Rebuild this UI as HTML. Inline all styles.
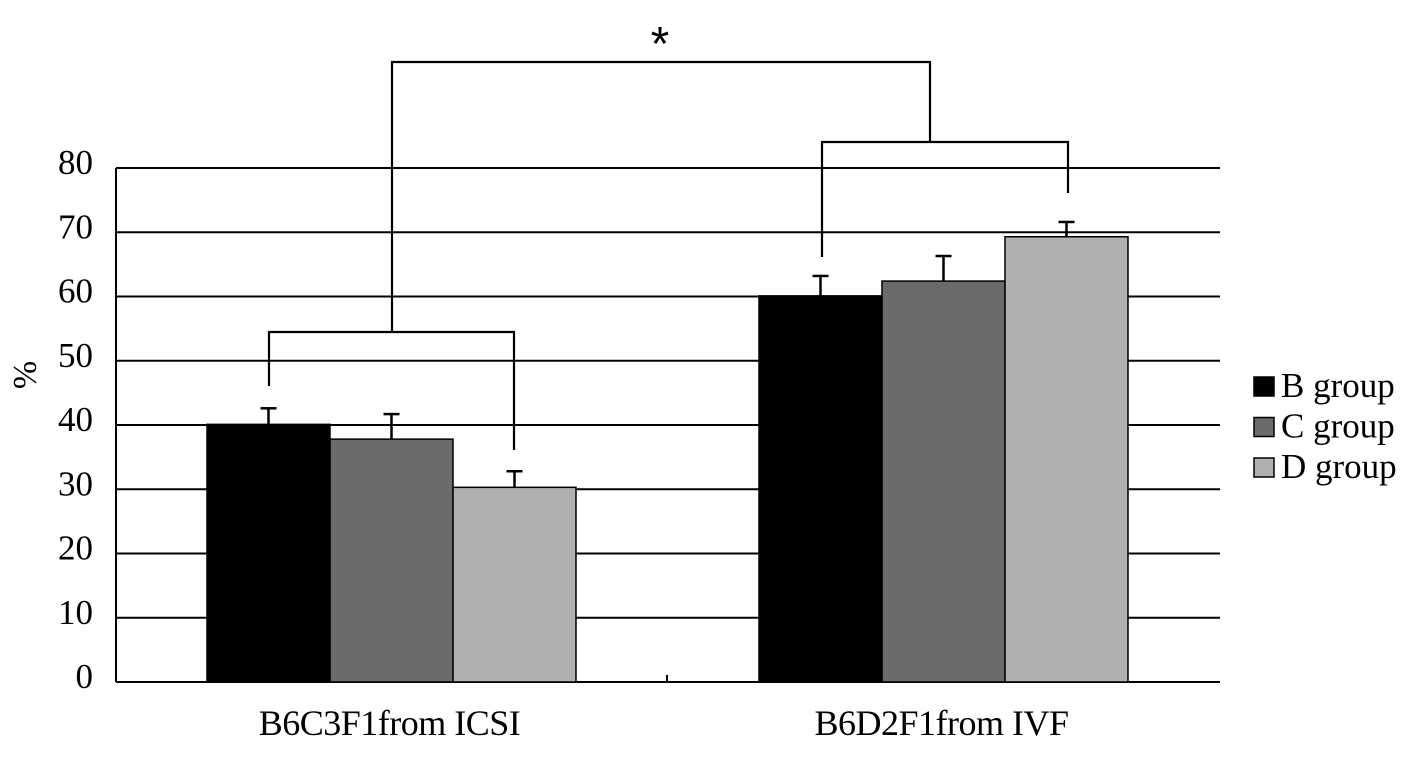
<!DOCTYPE html>
<html><head><meta charset="utf-8"><style>
body{margin:0;background:#fff}
svg{display:block;font-family:"Liberation Serif",serif}
</style></head><body>
<svg id="chart" width="1417" height="760" viewBox="0 0 1417 760"></svg>
<script>
const categories=["B6C3F1from ICSI","B6D2F1from IVF"];
const seriesNames=["B group","C group","D group"];
const seriesB=[40.1,60.1];
const seriesC=[37.8,62.4];
const seriesD=[30.3,69.3];
const errB=[2.5,3.1];
const errC=[3.9,3.9];
const errD=[2.5,2.3];
const yTicks=[0,10,20,30,40,50,60,70,80];
const colors=["#000000","#6b6b6b","#b0b0b0"];
const svg=document.getElementById('chart');
const NS="http://www.w3.org/2000/svg";
function y(v){return 682-v*(682-168)/80;}
const groupX=[207,759], barW=123;
function mk(tag,attrs,name,parent){const e=document.createElementNS(NS,tag);for(const k in attrs)e.setAttribute(k,attrs[k]);


(parent||svg).appendChild(e);return e;}
yTicks.forEach(t=>{
 if(t>0) mk('line',{x1:116,x2:1220,y1:y(t),y2:y(t),stroke:'#000','stroke-width':2},'gridline-'+t);
 const tx=mk('text',{x:93,y:y(t)+6,'text-anchor':'end','font-size':35},'y-tick-'+t);tx.textContent=t;
});
mk('line',{x1:116,x2:116,y1:168,y2:682,stroke:'#000','stroke-width':2},'y-axis');
mk('line',{x1:116,x2:1220,y1:682,y2:682,stroke:'#000','stroke-width':2},'x-axis');
mk('line',{x1:667,x2:667,y1:675,y2:682,stroke:'#000','stroke-width':2},'x-tick-mid');
const series=[seriesB,seriesC,seriesD], errs=[errB,errC,errD];
categories.forEach((c,i)=>{
 series.forEach((s,j)=>{
  const x=groupX[i]+j*barW, v=s[i];
  mk('rect',{x:x,y:y(v),width:barW,height:682-y(v),fill:colors[j],stroke:'#000','stroke-width':1.5},'bar-'+seriesNames[j].split(' ')[0].toLowerCase()+'-'+(i+1));
  const cx=x+barW/2, top=y(v+errs[j][i]);
  mk('line',{x1:cx,x2:cx,y1:y(v),y2:top,stroke:'#000','stroke-width':2.5},'error-bar');
  mk('line',{x1:cx-8,x2:cx+8,y1:top,y2:top,stroke:'#000','stroke-width':2.5},'error-cap');
 });
 const t=mk('text',{x:groupX[i]+1.5*barW-2,y:735,'text-anchor':'middle','font-size':36,'letter-spacing':-0.5},'x-label-'+(i+1));t.textContent=c;
});
const yl=mk('text',{x:0,y:0,'text-anchor':'middle','font-size':34,transform:'translate(36,375) rotate(-90)'},'y-axis-title');yl.textContent='%';
const br='M269,386 L269,332 L514,332 L514,450 M392,332 L392,62 L930,62 L930,142 M822,257 L822,142 L1068,142 L1068,193';
mk('path',{d:br,fill:'none',stroke:'#000','stroke-width':2.2},'significance-brackets');
const st=mk('text',{x:660,y:60,'text-anchor':'middle','font-size':48,'font-family':'Liberation Sans, sans-serif'},'significance-star');st.textContent='*';
seriesNames.forEach((n,j)=>{
 const yy=377+j*40.5;
 mk('rect',{x:1254,y:yy,width:20,height:19,fill:colors[j],stroke:'#000','stroke-width':1.5},'legend-swatch-'+j);
 const t=mk('text',{x:1281,y:yy+20,'font-size':35},'legend-entry-'+j);t.textContent=n;
});
</script>
</body></html>
